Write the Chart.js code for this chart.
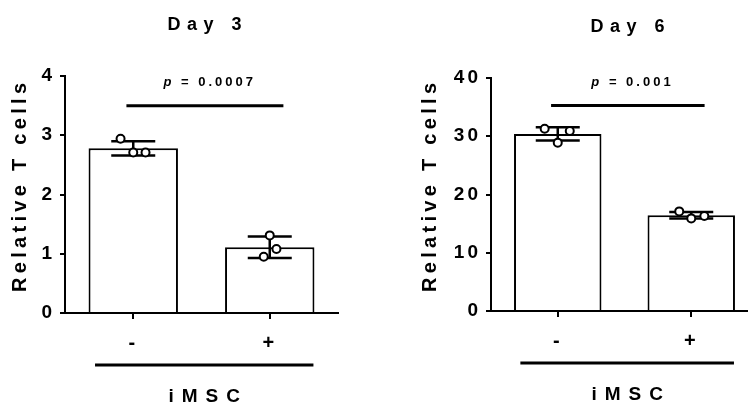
<!DOCTYPE html>
<html>
<head>
<meta charset="utf-8">
<script src="https://cdn.jsdelivr.net/npm/chart.js@4.4.1/dist/chart.umd.min.js"></script>
<style>
  html, body { margin: 0; padding: 0; background: #fff; overflow: hidden; }
  body { width: 748px; height: 406px; position: relative; }
  canvas { position: absolute; top: 0; }
  #chart3 { left: 0; }
  #chart6 { left: 374px; }
</style>
</head>
<body>
<canvas id="chart3" width="374" height="406"></canvas>
<canvas id="chart6" width="400" height="406"></canvas>
<script>
// DONNEES

const groups = ['-', '+'];

const day3Mean = [2.78, 1.11];
const day3Sd = [0.12, 0.18];
const day3Points = [[2.94, 2.71, 2.71], [1.31, 1.08, 0.95]];
const day3Ticks = [0, 1, 2, 3, 4];

const day6Mean = [30.4, 16.45];
const day6Sd = [1.15, 0.55];
const day6Points = [[31.3, 30.9, 28.9], [17.1, 15.9, 16.3]];
const day6Ticks = [0, 10, 20, 30, 40];

const pValues = ['0.0007', '0.001'];

// FIN DONNEES

const FONT = '"Liberation Sans", Arial, sans-serif';

function spaced(ctx, text, x, y, spacing, font, angle) {
    ctx.save();
    ctx.font = font;
    ctx.letterSpacing = spacing + 'px';
    ctx.fillStyle = '#000';
    ctx.textAlign = 'center';
    ctx.textBaseline = 'middle';
    ctx.translate(x, y);
    if (angle) ctx.rotate(angle);
    ctx.fillText(text, spacing / 2, 0);
    ctx.restore();
}

function panelPlugin(opts) {
    return {
        id: 'panel',
        beforeDraw(chart) {
            chart.ctx.letterSpacing = '3px';
        },
        afterDatasetDraw(chart, args) {
            if (args.meta.type !== 'bar') return;
            // barres d'erreur (moyenne +/- SD)
            const ctx = chart.ctx;
            const x = chart.scales.x;
            const y = chart.scales.y;
            ctx.save();
            ctx.strokeStyle = '#000';
            ctx.lineWidth = 2.5;
            opts.mean.forEach((m, i) => {
                const cx = x.getPixelForValue(i);
                const top = y.getPixelForValue(m + opts.sd[i]);
                const bot = y.getPixelForValue(m - opts.sd[i]);
                ctx.beginPath();
                ctx.moveTo(cx, top); ctx.lineTo(cx, bot);
                ctx.moveTo(cx - 22, top); ctx.lineTo(cx + 22, top);
                ctx.moveTo(cx - 22, bot); ctx.lineTo(cx + 22, bot);
                ctx.stroke();
            });
            ctx.restore();
        },
        afterDraw(chart) {
            const ctx = chart.ctx;
            const a = chart.chartArea;
            const xp = chart.scales.xp;
            const y = chart.scales.y;

            // titre
            spaced(ctx, opts.title, (a.left + a.right) / 2 + 3, a.top - 51, 6.5, 'bold 18px ' + FONT);

            // titre axe y
            spaced(ctx, 'Relative T cells', a.left - opts.yTitleOff, (a.top + a.bottom) / 2 - 7, 4.3, 'bold 20px ' + FONT, -Math.PI / 2);

            ctx.save();
            ctx.strokeStyle = '#000';
            ctx.lineWidth = 3;

            // ligne de significativite
            const sy = y.getPixelForValue(opts.sig);
            ctx.beginPath();
            ctx.moveTo(xp.getPixelForValue(-0.05), sy);
            ctx.lineTo(xp.getPixelForValue(1.1), sy);
            ctx.stroke();

            // ligne iMSC
            const ly = a.bottom + 52;
            ctx.beginPath();
            ctx.moveTo(xp.getPixelForValue(-0.28), ly);
            ctx.lineTo(xp.getPixelForValue(1.32), ly);
            ctx.stroke();
            ctx.restore();

            // texte p
            ctx.save();
            ctx.fillStyle = '#000';
            ctx.textBaseline = 'middle';
            ctx.letterSpacing = '3px';
            const pFont = 'italic bold 13px ' + FONT;
            const restFont = 'bold 13px ' + FONT;
            const rest = ' = ' + opts.p;
            ctx.font = pFont;
            const w1 = ctx.measureText('p').width;
            ctx.font = restFont;
            const w2 = ctx.measureText(rest).width;
            let px = xp.getPixelForValue(0.56) - (w1 + w2) / 2;
            ctx.font = pFont;
            ctx.fillText('p', px, sy - 23);
            ctx.font = restFont;
            ctx.fillText(rest, px + w1, sy - 23);
            ctx.restore();

            // iMSC
            spaced(ctx, 'iMSC', xp.getPixelForValue(0.52), a.bottom + 84, 8, 'bold 19px ' + FONT);
        }
    };
}

function makePanel(id, opts) {
    const scatter = [];
    opts.points.forEach((vals, i) => {
        vals.forEach((v, k) => scatter.push({ x: i + opts.jitter[i][k], y: v }));
    });

    return new Chart(document.getElementById(id), {
        data: {
            labels: groups,
            datasets: [{
                type: 'bar',
                data: opts.mean,
                backgroundColor: '#fff',
                borderColor: '#000',
                borderWidth: 2,
                barPercentage: 0.655,
                categoryPercentage: 1,
                grouped: false,
                order: 2,
                xAxisID: 'x',
                yAxisID: 'y',
            }, {
                type: 'scatter',
                data: scatter,
                xAxisID: 'xp',
                yAxisID: 'y',
                pointRadius: 4,
                pointBackgroundColor: '#fff',
                pointBorderColor: '#000',
                pointBorderWidth: 2,
                order: 1,
            }]
        },
        options: {
            responsive: false,
            animation: false,
            layout: { padding: { top: opts.top, right: opts.right, left: 0, bottom: 0 } },
            plugins: {
                legend: { display: false },
                tooltip: { enabled: false }
            },
            scales: {
                x: {
                    type: 'category',
                    offset: true,
                    grid: { offset: false, drawOnChartArea: false, color: '#000', lineWidth: 2, tickLength: 6 },
                    border: { color: '#000', width: 2 },
                    ticks: { color: '#000', font: { family: FONT, size: 20, weight: 'bold' }, padding: 12 },
                    afterFit: s => { s.height = opts.xHeight; }
                },
                xp: { type: 'linear', display: false, min: -0.5, max: 1.5 },
                y: {
                    min: 0,
                    max: opts.ticks[opts.ticks.length - 1],
                    afterBuildTicks: s => { s.ticks = opts.ticks.map(v => ({ value: v })); },
                    grid: { drawOnChartArea: false, color: '#000', lineWidth: 2, tickLength: 5 },
                    border: { color: '#000', width: 2 },
                    ticks: { color: '#000', font: { family: FONT, size: 19, weight: 'bold' }, padding: 5 },
                    afterFit: s => { s.width = opts.yWidth; }
                }
            }
        },
        plugins: [panelPlugin(opts)]
    });
}

// GRAPH DAY 3
const chart3 = makePanel('chart3', {
    title: 'Day 3',
    mean: day3Mean,
    sd: day3Sd,
    points: day3Points,
    jitter: [[-0.093, 0, 0.09], [0, 0.049, -0.044]],
    ticks: day3Ticks,
    p: pValues[0],
    sig: 3.5,
    top: 76,
    right: 36,
    yWidth: 65,
    xHeight: 93,
    yTitleOff: 45,
});
// FIN GRAPH DAY 3

// GRAPH DAY 6
const chart6 = makePanel('chart6', {
    title: 'Day 6',
    mean: day6Mean,
    sd: day6Sd,
    points: day6Points,
    jitter: [[-0.098, 0.09, 0], [-0.09, 0, 0.098]],
    ticks: day6Ticks,
    p: pValues[1],
    sig: 35.3,
    top: 78,
    right: 16,
    yWidth: 117,
    xHeight: 95,
    yTitleOff: 61,
});
// FIN GRAPH DAY 6
</script>
</body>
</html>
